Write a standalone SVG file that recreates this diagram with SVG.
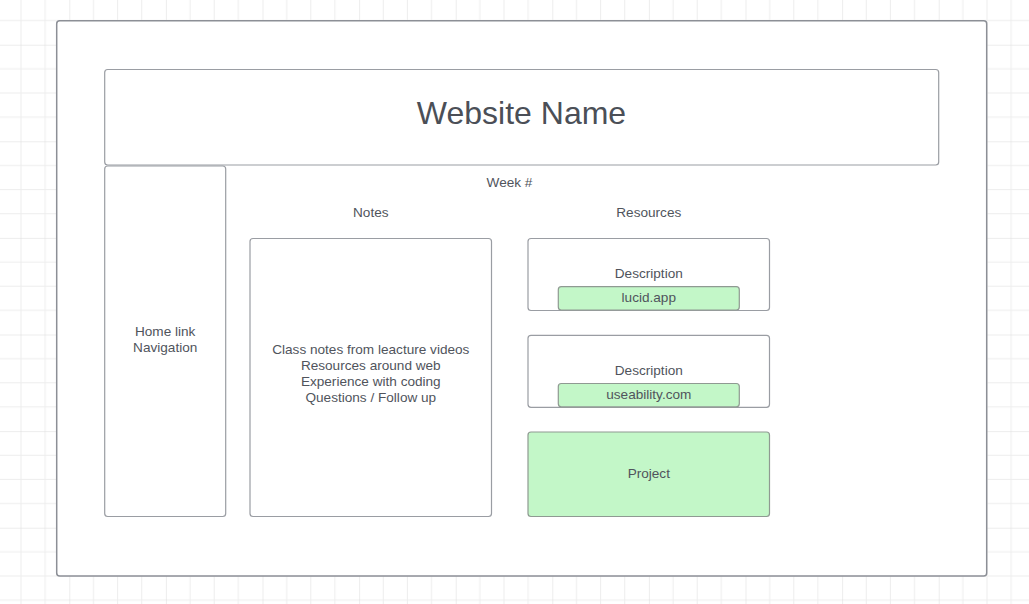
<svg xmlns="http://www.w3.org/2000/svg" width="1029" height="604" viewBox="0 0 1029 604">
  <defs>
    <!-- canvas grid: minor lines every 24.15px, heavier line every 4th -->
    <pattern id="grid" patternUnits="userSpaceOnUse" x="69.3" y="44.7" width="96.6" height="96.6">
      <g stroke="#ededed" stroke-width="1">
        <line x1="24.15" y1="0" x2="24.15" y2="96.6"/>
        <line x1="48.3" y1="0" x2="48.3" y2="96.6"/>
        <line x1="72.45" y1="0" x2="72.45" y2="96.6"/>
        <line x1="0" y1="24.15" x2="96.6" y2="24.15"/>
        <line x1="0" y1="48.3" x2="96.6" y2="48.3"/>
        <line x1="0" y1="72.45" x2="96.6" y2="72.45"/>
      </g>
      <g stroke="#dcdcdc" stroke-width="1">
        <line x1="0" y1="0" x2="0" y2="96.6"/>
        <line x1="0" y1="0" x2="96.6" y2="0"/>
      </g>
    </pattern>
    <style>
      .frame { fill: #ffffff; stroke: #8c8f96; stroke-width: 1.5; }
      .box { fill: #ffffff; stroke: #9a9da3; stroke-width: 1.2; }
      .green { fill: #c3f7c8; stroke: #8f9a92; stroke-width: 1.2; }
      text { font-family: "Liberation Sans", Arial, sans-serif; fill: #50545c; text-anchor: middle; font-size: 13.6px; }
      .title { font-size: 32px; fill: #4b4f57; }
    </style>
  </defs>

  <rect width="1029" height="604" fill="#ffffff"/>
  <rect width="1029" height="604" fill="url(#grid)"/>

  <!-- page frame -->
  <g id="page">
    <rect class="frame" x="56.7" y="20.7" width="930" height="555.3" rx="3"/>
  </g>

  <g id="header">
    <rect class="box" x="104.7" y="69.5" width="834" height="95.5" rx="3"/>
    <text class="title" x="521.5" y="124">Website Name</text>
  </g>

  <g id="nav">
    <rect class="box" x="104.7" y="166" width="121" height="350.5" rx="3"/>
    <text x="165.2" y="336">Home link</text>
    <text x="165.2" y="352">Navigation</text>
  </g>

  <g id="week-label">
    <text x="509.5" y="187">Week #</text>
  </g>

  <g id="notes-label">
    <text x="370.8" y="217">Notes</text>
  </g>

  <g id="resources-label">
    <text x="648.8" y="217">Resources</text>
  </g>

  <g id="notes">
    <rect class="box" x="250" y="238.5" width="241.5" height="278" rx="3"/>
    <text x="370.8" y="354">Class notes from leacture videos</text>
    <text x="370.8" y="370">Resources around web</text>
    <text x="370.8" y="386">Experience with coding</text>
    <text x="370.8" y="402">Questions / Follow up</text>
  </g>

  <g id="resource-1">
    <rect class="box" x="528" y="238.5" width="241.5" height="72" rx="3"/>
    <text x="648.8" y="278">Description</text>
  </g>
  <g id="link-lucid">
    <rect class="green" x="558.3" y="286.7" width="181" height="23.3" rx="3"/>
    <text x="648.8" y="302">lucid.app</text>
  </g>

  <g id="resource-2">
    <rect class="box" x="528" y="335.3" width="241.5" height="72" rx="3"/>
    <text x="648.8" y="375">Description</text>
  </g>
  <g id="link-useability">
    <rect class="green" x="558.3" y="383.5" width="181" height="23.3" rx="3"/>
    <text x="648.8" y="399">useability.com</text>
  </g>

  <g id="project">
    <rect class="green" x="528" y="432" width="241.5" height="84.5" rx="3"/>
    <text x="648.8" y="478">Project</text>
  </g>

  <g id="connectors"></g>
</svg>
